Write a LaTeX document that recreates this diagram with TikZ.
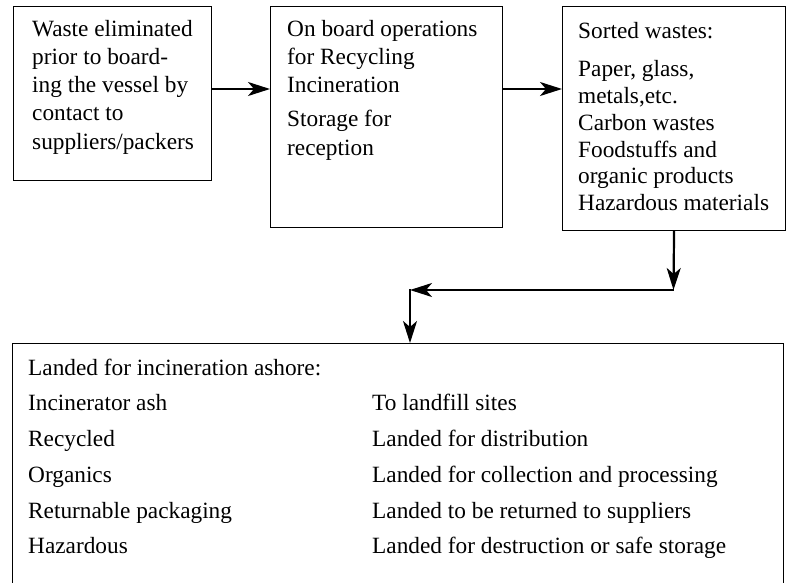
\documentclass[tikz,border=0pt]{standalone}
\usepackage{fontspec}
\setmainfont{Liberation Serif}
\usetikzlibrary{arrows.meta}
\begin{document}
\begin{tikzpicture}[x=1pt,y=-1pt,
  box/.style={draw, line width=1.1pt, inner sep=0pt, anchor=north west},
  lbl/.style={anchor=base west, inner sep=0pt, font=\fontsize{23.3}{28}\selectfont},
  conn/.style={line width=2.2pt, -{Stealth[length=22pt,width=14pt,inset=6pt]}}]
\useasboundingbox (0,0) rectangle (789,583);
% boxes
\node[box, minimum width=198pt, minimum height=174pt] (b1) at (13,6) {};
\node[box, minimum width=232pt, minimum height=221pt] (b2) at (270,6) {};
\node[box, minimum width=223pt, minimum height=224pt] (b3) at (562,6) {};
\node[box, minimum width=771pt, minimum height=320pt] (b4) at (12,343) {};
% box 1 text
\node[lbl] (t11) at (32,37) {Waste eliminated};
\node[lbl] (t12) at (32,65) {prior to board-};
\node[lbl] (t13) at (32,93) {ing the vessel by};
\node[lbl] (t14) at (32,121) {contact to};
\node[lbl] (t15) at (32,149) {suppliers/packers};
% box 2 text
\node[lbl] (t21) at (287,37) {On board operations};
\node[lbl] (t22) at (287,65) {for Recycling};
\node[lbl] (t23) at (287,93) {Incineration};
\node[lbl] (t24) at (287,127) {Storage for};
\node[lbl] (t25) at (287,155) {reception};
% box 3 text
\node[lbl] (t31) at (578,39) {Sorted wastes:};
\node[lbl] (t32) at (578,77) {Paper, glass,};
\node[lbl] (t33) at (578,104) {metals,etc.};
\node[lbl] (t34) at (578,130) {Carbon wastes};
\node[lbl] (t35) at (578,157) {Foodstuffs and};
\node[lbl] (t36) at (578,183) {organic products};
\node[lbl] (t37) at (578,210) {Hazardous materials};
% box 4 text
\node[lbl] (t40) at (28,375) {Landed for incineration ashore:};
\node[lbl] (t41) at (28,410) {Incinerator ash};
\node[lbl] (t42) at (28,446) {Recycled};
\node[lbl] (t43) at (28,482) {Organics};
\node[lbl] (t44) at (28,518) {Returnable packaging};
\node[lbl] (t45) at (28,553) {Hazardous};
\node[lbl] (u41) at (372,410) {To landfill sites};
\node[lbl] (u42) at (372,446) {Landed for distribution};
\node[lbl] (u43) at (372,482) {Landed for collection and processing};
\node[lbl] (u44) at (372,518) {Landed to be returned to suppliers};
\node[lbl] (u45) at (372,553) {Landed for destruction or safe storage};
% connectors
\coordinate (row) at (0,89);
\coordinate (c1) at (673.5,290);
\coordinate (c2) at (410,290);
\draw[conn] (b1.east |- row) -- (b2.west |- row);
\draw[conn] (b2.east |- row) -- (b3.west |- row);
\draw[conn] (b3.south) -- (c1);
\draw[conn] (c1) -- (c2);
\draw[conn] ([yshift=1pt]c2) -- (c2 |- b4.north);
\end{tikzpicture}
\end{document}
